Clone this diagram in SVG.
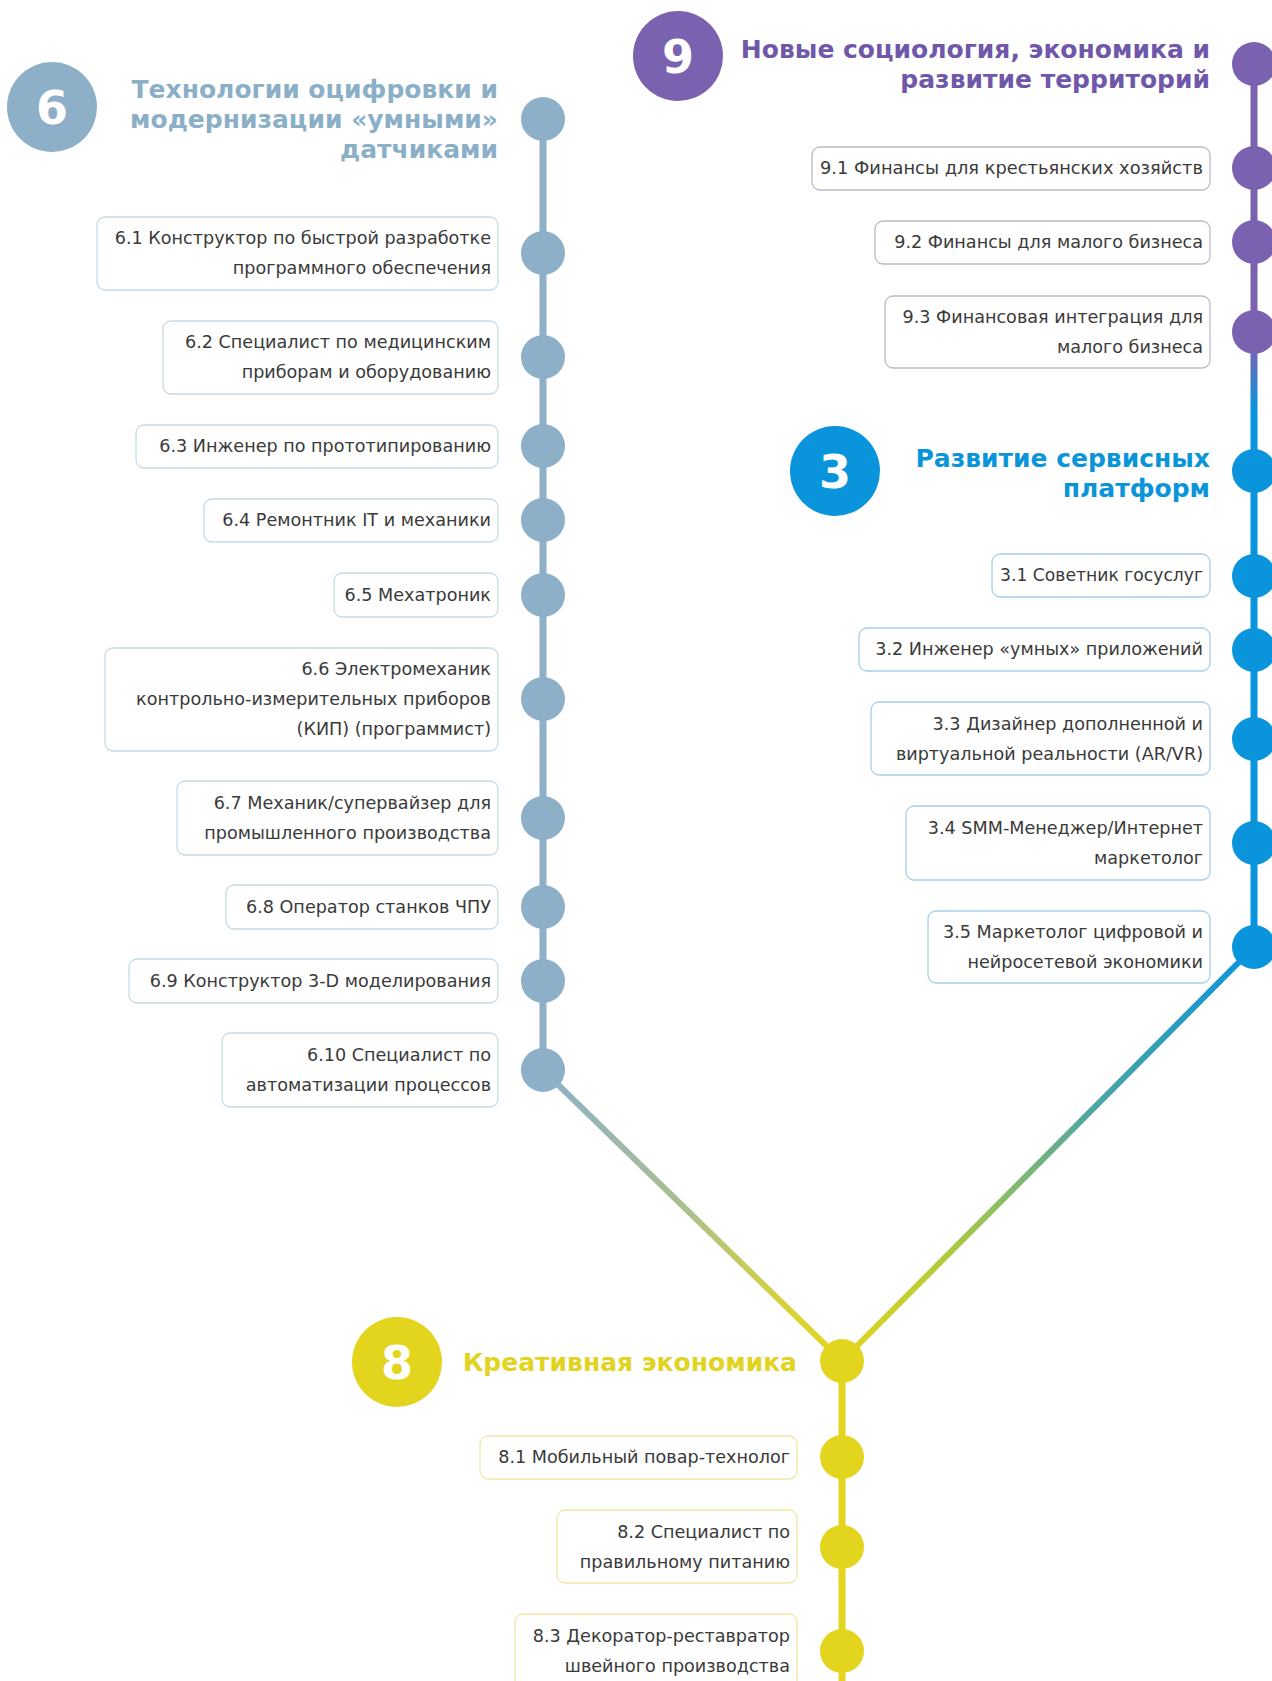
<svg xmlns="http://www.w3.org/2000/svg" width="1272" height="1681" viewBox="0 0 1272 1681">
<defs>
<style>
.t{font-family:"DejaVu Sans","Liberation Sans",sans-serif;font-size:17.6px;fill:#3a3a3a;text-anchor:end}
.h{font-family:"DejaVu Sans","Liberation Sans",sans-serif;font-size:25px;font-weight:bold;text-anchor:end}
.n{font-family:"DejaVu Sans","Liberation Sans",sans-serif;font-size:46px;font-weight:bold;fill:#fff;text-anchor:middle}
.b6{fill:#fff;stroke:#C9D9E4;stroke-width:1.3}
.b9{fill:#fff;stroke:#BDB8CC;stroke-width:1.3}
.b3{fill:#fff;stroke:#A8D0EA;stroke-width:1.3}
.b8{fill:#fff;stroke:#EFE8A6;stroke-width:1.3}
.d6{fill:#8DB0C8}.d9{fill:#7A62B0}.d3{fill:#0A94DB}.d8{fill:#E3D51E}
</style>
<linearGradient id="gR" gradientUnits="userSpaceOnUse" x1="0" y1="64" x2="0" y2="947">
<stop offset="0" stop-color="#7A62B0"/><stop offset="0.32" stop-color="#7A62B0"/><stop offset="0.39" stop-color="#0A94DB"/><stop offset="1" stop-color="#0A94DB"/>
</linearGradient>
<linearGradient id="gL" gradientUnits="userSpaceOnUse" x1="543" y1="1070" x2="842" y2="1361">
<stop offset="0" stop-color="#8DB0C8"/><stop offset="0.45" stop-color="#AABD94"/><stop offset="0.8" stop-color="#D5D23C"/><stop offset="1" stop-color="#E3D51E"/>
</linearGradient>
<linearGradient id="gD" gradientUnits="userSpaceOnUse" x1="1254" y1="947" x2="842" y2="1361">
<stop offset="0" stop-color="#0A94DB"/><stop offset="0.4" stop-color="#4FA6A0"/><stop offset="0.75" stop-color="#B2CB3E"/><stop offset="1" stop-color="#E3D51E"/>
</linearGradient>
</defs>
<rect width="1272" height="1681" fill="#fff"/>
<g id="connectors" fill="none">
<line x1="543" y1="119" x2="543" y2="1070" stroke="#8DB0C8" stroke-width="7"/>
<line x1="1254" y1="64" x2="1254" y2="947" stroke="url(#gR)" stroke-width="7"/>
<line x1="543" y1="1070" x2="842" y2="1361" stroke="url(#gL)" stroke-width="6"/>
<line x1="1254" y1="947" x2="842" y2="1361" stroke="url(#gD)" stroke-width="6"/>
<line x1="842" y1="1361" x2="842" y2="1681" stroke="#E3D51E" stroke-width="7"/>
</g>
<g id="branch6">
<circle class="d6" cx="52" cy="107" r="45"/>
<text class="n" x="52" y="124">6</text>
<text class="h" fill="#8AAFC7" x="498" y="98">Технологии оцифровки и</text>
<text class="h" fill="#8AAFC7" x="498" y="128">модернизации «умными»</text>
<text class="h" fill="#8AAFC7" x="498" y="158">датчиками</text>
<circle class="d6" cx="543" cy="119" r="22"/>
</g>
<g id="n6-1"><rect class="b6" x="97" y="217" width="401" height="73" rx="8"/><text class="t" x="491" y="244">6.1 Конструктор по быстрой разработке</text><text class="t" x="491" y="274">программного обеспечения</text><circle class="d6" cx="543" cy="253" r="22"/></g>
<g id="n6-2"><rect class="b6" x="163" y="321" width="335" height="73" rx="8"/><text class="t" x="491" y="348">6.2 Специалист по медицинским</text><text class="t" x="491" y="378">приборам и оборудованию</text><circle class="d6" cx="543" cy="357" r="22"/></g>
<g id="n6-3"><rect class="b6" x="136" y="425" width="362" height="43" rx="8"/><text class="t" x="491" y="452">6.3 Инженер по прототипированию</text><circle class="d6" cx="543" cy="446" r="22"/></g>
<g id="n6-4"><rect class="b6" x="204" y="499" width="294" height="43" rx="8"/><text class="t" x="491" y="526">6.4 Ремонтник IT и механики</text><circle class="d6" cx="543" cy="520" r="22"/></g>
<g id="n6-5"><rect class="b6" x="334" y="573" width="164" height="44" rx="8"/><text class="t" x="491" y="601">6.5 Мехатроник</text><circle class="d6" cx="543" cy="595" r="22"/></g>
<g id="n6-6"><rect class="b6" x="105" y="648" width="393" height="103" rx="8"/><text class="t" x="491" y="675">6.6 Электромеханик</text><text class="t" x="491" y="705">контрольно-измерительных приборов</text><text class="t" x="491" y="735">(КИП) (программист)</text><circle class="d6" cx="543" cy="699" r="22"/></g>
<g id="n6-7"><rect class="b6" x="177" y="781" width="321" height="74" rx="8"/><text class="t" x="491" y="809">6.7 Механик/супервайзер для</text><text class="t" x="491" y="839">промышленного производства</text><circle class="d6" cx="543" cy="818" r="22"/></g>
<g id="n6-8"><rect class="b6" x="226" y="885" width="272" height="44" rx="8"/><text class="t" x="491" y="913">6.8 Оператор станков ЧПУ</text><circle class="d6" cx="543" cy="907" r="22"/></g>
<g id="n6-9"><rect class="b6" x="129" y="959" width="369" height="44" rx="8"/><text class="t" x="491" y="987">6.9 Конструктор 3-D моделирования</text><circle class="d6" cx="543" cy="981" r="22"/></g>
<g id="n6-10"><rect class="b6" x="222" y="1033" width="276" height="74" rx="8"/><text class="t" x="491" y="1061">6.10 Специалист по</text><text class="t" x="491" y="1091">автоматизации процессов</text><circle class="d6" cx="543" cy="1070" r="22"/></g>
<g id="branch9">
<circle class="d9" cx="678" cy="56" r="45"/>
<text class="n" x="678" y="73">9</text>
<text class="h" fill="#6F58A9" x="1210" y="58">Новые социология, экономика и</text>
<text class="h" fill="#6F58A9" x="1210" y="88">развитие территорий</text>
<circle class="d9" cx="1254" cy="64" r="22"/>
</g>
<g id="n9-1"><rect class="b9" x="812" y="147" width="398" height="43" rx="8"/><text class="t" x="1203" y="174" textLength="383" lengthAdjust="spacingAndGlyphs">9.1 Финансы для крестьянских хозяйств</text><circle class="d9" cx="1254" cy="168" r="22"/></g>
<g id="n9-2"><rect class="b9" x="875" y="221" width="335" height="43" rx="8"/><text class="t" x="1203" y="248">9.2 Финансы для малого бизнеса</text><circle class="d9" cx="1254" cy="242" r="22"/></g>
<g id="n9-3"><rect class="b9" x="885" y="296" width="325" height="72" rx="8"/><text class="t" x="1203" y="323">9.3 Финансовая интеграция для</text><text class="t" x="1203" y="353">малого бизнеса</text><circle class="d9" cx="1254" cy="332" r="22"/></g>
<g id="branch3">
<circle class="d3" cx="835" cy="471" r="45"/>
<text class="n" x="835" y="488">3</text>
<text class="h" fill="#0B95D9" x="1210" y="467">Развитие сервисных</text>
<text class="h" fill="#0B95D9" x="1210" y="497">платформ</text>
<circle class="d3" cx="1254" cy="471" r="22"/>
</g>
<g id="n3-1"><rect class="b3" x="992" y="554" width="218" height="43" rx="8"/><text class="t" x="1203" y="581" textLength="203" lengthAdjust="spacingAndGlyphs">3.1 Советник госуслуг</text><circle class="d3" cx="1254" cy="576" r="22"/></g>
<g id="n3-2"><rect class="b3" x="859" y="628" width="351" height="43" rx="8"/><text class="t" x="1203" y="655">3.2 Инженер «умных» приложений</text><circle class="d3" cx="1254" cy="650" r="22"/></g>
<g id="n3-3"><rect class="b3" x="871" y="702" width="339" height="73" rx="8"/><text class="t" x="1203" y="730">3.3 Дизайнер дополненной и</text><text class="t" x="1203" y="760">виртуальной реальности (AR/VR)</text><circle class="d3" cx="1254" cy="739" r="22"/></g>
<g id="n3-4"><rect class="b3" x="906" y="806" width="304" height="74" rx="8"/><text class="t" x="1203" y="834">3.4 SMM-Менеджер/Интернет</text><text class="t" x="1203" y="864">маркетолог</text><circle class="d3" cx="1254" cy="843" r="22"/></g>
<g id="n3-5"><rect class="b3" x="928" y="911" width="282" height="72" rx="8"/><text class="t" x="1203" y="938">3.5 Маркетолог цифровой и</text><text class="t" x="1203" y="968">нейросетевой экономики</text><circle class="d3" cx="1254" cy="947" r="22"/></g>
<g id="branch8">
<circle class="d8" cx="397" cy="1362" r="45"/>
<text class="n" x="397" y="1379">8</text>
<text class="h" fill="#E2D31F" x="797" y="1371">Креативная экономика</text>
<circle class="d8" cx="842" cy="1361" r="22"/>
</g>
<g id="n8-1"><rect class="b8" x="480" y="1436" width="317" height="43" rx="8"/><text class="t" x="790" y="1463">8.1 Мобильный повар-технолог</text><circle class="d8" cx="842" cy="1457" r="22"/></g>
<g id="n8-2"><rect class="b8" x="557" y="1510" width="240" height="73" rx="8"/><text class="t" x="790" y="1538">8.2 Специалист по</text><text class="t" x="790" y="1568">правильному питанию</text><circle class="d8" cx="842" cy="1547" r="22"/></g>
<g id="n8-3"><rect class="b8" x="515" y="1614" width="282" height="74" rx="8"/><text class="t" x="790" y="1642">8.3 Декоратор-реставратор</text><text class="t" x="790" y="1672">швейного производства</text><circle class="d8" cx="842" cy="1651" r="22"/></g>
</svg>
